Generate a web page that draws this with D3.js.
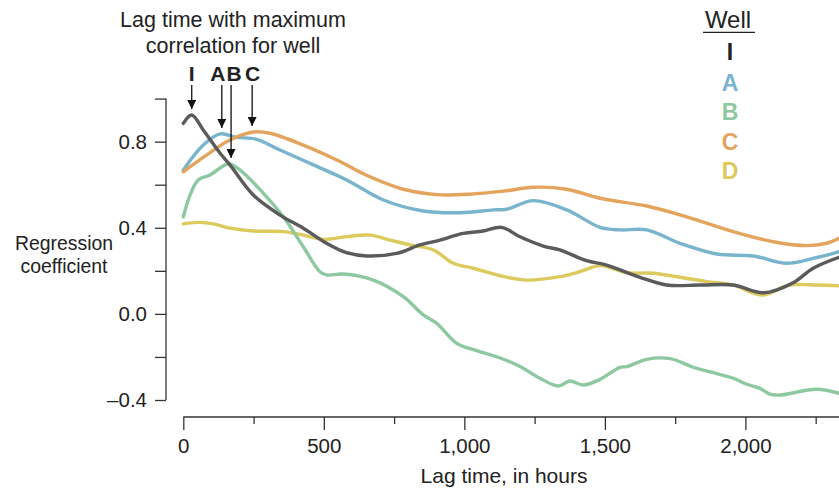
<!DOCTYPE html>
<html><head><meta charset="utf-8">
<script src="https://cdn.jsdelivr.net/npm/d3@7"></script>
<style>
body{margin:0;background:#fff;}
svg{display:block;font-family:"Liberation Sans","Helvetica",Arial,sans-serif;}
</style></head>
<body><svg id="chart" width="839" height="490"></svg>
<script>
// ---- data ----
const wells = ["I","A","B","C","D"];
const colors = ["#5b5b5b","#78b4cc","#8dc8a0","#e3a45d","#dcca5c"];
const legendColors = ["#222222","#78b4cc","#8dc8a0","#e3a45d","#dcca5c"];
const seriesI = [[0,0.885],[30,0.924],[71,0.854],[131,0.746],[166,0.692],[249,0.552],[344,0.459],[427,0.398],[510,0.328],[581,0.284],[652,0.269],[759,0.281],[842,0.320],[913,0.343],[996,0.374],[1067,0.385],[1133,0.402],[1198,0.358],[1281,0.315],[1340,0.297],[1435,0.247],[1506,0.227],[1625,0.170],[1720,0.134],[1838,0.134],[1957,0.134],[2064,0.098],[2170,0.145],[2241,0.212],[2333,0.263]];
const seriesA = [[0,0.668],[71,0.784],[131,0.836],[190,0.820],[261,0.811],[344,0.761],[463,0.692],[581,0.622],[712,0.529],[854,0.478],[984,0.470],[1103,0.483],[1150,0.486],[1245,0.526],[1364,0.483],[1483,0.402],[1554,0.390],[1649,0.390],[1767,0.328],[1898,0.278],[2028,0.269],[2147,0.235],[2241,0.258],[2333,0.289]];
const seriesB = [[0,0.451],[24,0.552],[53,0.622],[95,0.645],[160,0.696],[202,0.668],[285,0.560],[356,0.451],[427,0.312],[486,0.196],[510,0.181],[569,0.185],[676,0.157],[783,0.080],[854,-0.005],[902,-0.044],[973,-0.137],[1044,-0.171],[1115,-0.199],[1198,-0.244],[1269,-0.299],[1334,-0.335],[1376,-0.312],[1423,-0.330],[1483,-0.304],[1554,-0.248],[1578,-0.245],[1649,-0.211],[1732,-0.208],[1815,-0.248],[1886,-0.273],[1957,-0.299],[2005,-0.327],[2052,-0.346],[2087,-0.373],[2123,-0.377],[2253,-0.350],[2333,-0.369]];
const seriesC = [[0,0.660],[71,0.727],[166,0.808],[249,0.845],[308,0.839],[427,0.784],[546,0.715],[664,0.637],[783,0.579],[902,0.554],[1020,0.556],[1139,0.570],[1245,0.588],[1364,0.579],[1483,0.537],[1649,0.501],[1791,0.451],[1957,0.382],[2099,0.335],[2218,0.317],[2289,0.328],[2333,0.351]];
const seriesD = [[0,0.418],[59,0.425],[107,0.418],[166,0.398],[249,0.385],[356,0.382],[427,0.366],[498,0.346],[581,0.359],[664,0.366],[735,0.343],[807,0.320],[890,0.297],[961,0.235],[1032,0.212],[1127,0.177],[1222,0.157],[1340,0.173],[1411,0.196],[1483,0.224],[1578,0.191],[1672,0.189],[1767,0.170],[1862,0.150],[1957,0.134],[2058,0.088],[2159,0.134],[2253,0.134],[2333,0.130]];
const allSeries = [seriesI, seriesA, seriesB, seriesC, seriesD];
const peakLabels = ["I","A","B","C"];
const peakLags = [30, 137, 170, 245];
const peakValues = [0.924, 0.836, 0.696, 0.845];
const xTicks = [0,250,500,750,1000,1250,1500,1750,2000,2250];
const xTickLabels = ["0","","500","","1,000","","1,500","","2,000",""];
const yTicks = [-0.4,-0.2,0,0.2,0.4,0.6,0.8,1.0];
const yTickLabels = ["–0.4","","0.0","","0.4","","0.8",""];

// ---- scales ----
const svg = d3.select("#chart");
const x = d3.scaleLinear().domain([0,2333]).range([183.3,839]);
const y = d3.scaleLinear().domain([-0.4,1.0]).range([400,98.6]);
const axisColor = "#333";

// y axis
const yAxisX = 166;
const gy = svg.append("g").attr("transform",`translate(${yAxisX},0)`)
  .call(d3.axisLeft(y).tickValues(yTicks).tickSize(11).tickPadding(8)
    .tickFormat((d,i)=>yTickLabels[i]));
gy.select(".domain").attr("d",`M0,${y(1.0)}V${y(-0.4)}`).attr("stroke",axisColor).attr("stroke-width",1.3);
gy.selectAll(".tick line").attr("stroke",axisColor).attr("stroke-width",1.3);
gy.selectAll(".tick text").attr("font-size",20.5).attr("fill","#222").attr("font-family","Liberation Sans, Arial, sans-serif");

// x axis
const xAxisY = 417;
const gx = svg.append("g").attr("transform",`translate(0,${xAxisY})`)
  .call(d3.axisBottom(x).tickValues(xTicks).tickSize(7).tickPadding(20)
    .tickFormat((d,i)=>xTickLabels[i]));
gx.select(".domain").attr("d",`M${x(0)},0H839`).attr("stroke",axisColor).attr("stroke-width",1.3);
gx.selectAll(".tick line").attr("stroke",axisColor).attr("stroke-width",1.3)
  .attr("y2",d=>d%500===0?13:7);
gx.selectAll(".tick text").attr("font-size",20.5).attr("fill","#222").attr("font-family","Liberation Sans, Arial, sans-serif").attr("dy",null).attr("y",36.3);

// axis titles
svg.append("text").attr("x",504).attr("y",483).attr("text-anchor","middle")
  .attr("font-size",21).attr("fill","#222").text("Lag time, in hours");
const yl = svg.append("text").attr("text-anchor","middle").attr("font-size",19.4).attr("fill","#222");
yl.append("tspan").attr("x",64).attr("y",250).text("Regression");
yl.append("tspan").attr("x",64).attr("y",273).text("coefficient");

// clip
svg.append("clipPath").attr("id","plotclip").append("rect")
  .attr("x",x(0)-4).attr("y",90).attr("width",839-x(0)+4).attr("height",320);

// lines
const line = d3.line().x(d=>x(d[0])).y(d=>y(d[1])).curve(d3.curveCatmullRom.alpha(0.5));
const order = [4,2,1,3,0];
svg.append("g").attr("clip-path","url(#plotclip)").selectAll("path")
  .data(order).join("path")
  .attr("d",i=>line(allSeries[i]))
  .attr("fill","none").attr("stroke",i=>colors[i]).attr("stroke-width",3.4)
  .attr("stroke-linecap","round").attr("stroke-linejoin","round");

// title annotation
const tt = svg.append("text").attr("text-anchor","middle").attr("font-size",21.5).attr("fill","#222");
tt.append("tspan").attr("x",233).attr("y",26.5).text("Lag time with maximum");
tt.append("tspan").attr("x",233).attr("y",52.5).text("correlation for well");

// arrows
svg.append("defs").append("marker").attr("id","arr").attr("viewBox","0 0 10 10")
  .attr("refX",10).attr("refY",5).attr("markerWidth",9).attr("markerHeight",9)
  .attr("markerUnits","userSpaceOnUse").attr("orient","auto")
  .append("path").attr("d","M0,0L10,5L0,10Z").attr("fill","#111");
const labelDx = [0,-4,3,0.5];
const ann = svg.append("g");
peakLabels.forEach((lab,i)=>{
  const px = x(peakLags[i]);
  ann.append("line").attr("x1",px).attr("x2",px).attr("y1",85)
    .attr("y2",y(peakValues[i])-6).attr("stroke","#111").attr("stroke-width",1.3)
    .attr("marker-end","url(#arr)");
  ann.append("text").attr("x",px+labelDx[i]).attr("y",80.5).attr("text-anchor","middle")
    .attr("font-size",21).attr("font-weight","bold").attr("fill","#222").text(lab);
});

// legend
const lg = svg.append("g");
lg.append("text").attr("x",728).attr("y",28).attr("text-anchor","middle").attr("font-size",24).attr("fill","#222").text("Well");
lg.append("line").attr("x1",703).attr("x2",755).attr("y1",32.3).attr("y2",32.3).attr("stroke","#222").attr("stroke-width",1.3);
const legBase = [60,90.5,120,150,178.5];
wells.forEach((w,i)=>{
  lg.append("text").attr("x",730).attr("y",legBase[i]).attr("text-anchor","middle")
    .attr("font-size",23).attr("font-weight","bold").attr("fill",legendColors[i]).text(w);
});
</script></body></html>
